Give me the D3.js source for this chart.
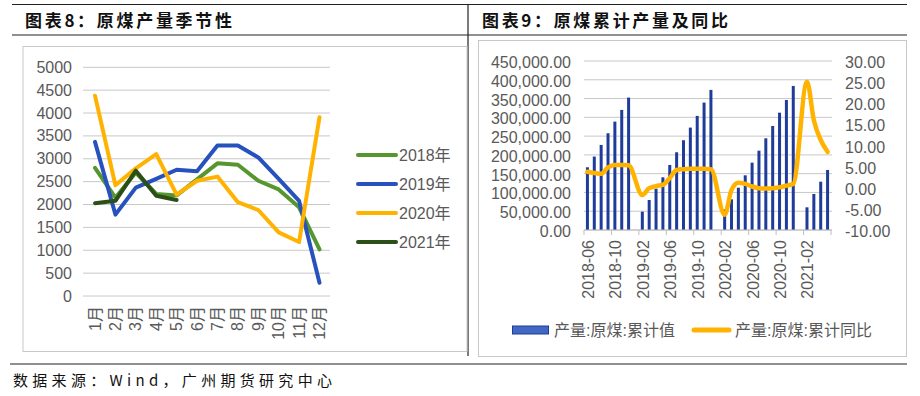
<!DOCTYPE html>
<html>
<head>
<meta charset="utf-8">
<script src="https://d3js.org/d3.v7.min.js"></script>
<style>
  body { margin: 0; background: #fff; }
  svg { display: block; }
  .ax { font-family: "Liberation Sans", Arial, "Noto Sans CJK SC", sans-serif; font-size: 16px; fill: #595959; }
</style>
</head>
<body>
<div id="chart"></div>
<script>
// ---- 图表8 data (monthly output, by year)
var months = ["1月","2月","3月","4月","5月","6月","7月","8月","9月","10月","11月","12月"];
var yTicksL = [0,500,1000,1500,2000,2500,3000,3500,4000,4500,5000];
var s2018 = [2800, 2150, 2700, 2230, 2200, 2550, 2900, 2870, 2520, 2330, 1940, 1020];
var s2019 = [3370, 1780, 2370, 2560, 2760, 2725, 3290, 3290, 3030, 2560, 2080, 290];
var s2020 = [4380, 2420, 2790, 3100, 2215, 2520, 2610, 2050, 1880, 1390, 1180, 3910];
var s2021 = [2030, 2080, 2740, 2190, 2100];
var seriesNames = ["2018年","2019年","2020年","2021年"];

// ---- 图表9 data (cumulative output and yoy)
var cumDates = ["2018-06","2018-07","2018-08","2018-09","2018-10","2018-11","2018-12",
  "2019-01","2019-02","2019-03","2019-04","2019-05","2019-06","2019-07","2019-08","2019-09","2019-10","2019-11","2019-12",
  "2020-01","2020-02","2020-03","2020-04","2020-05","2020-06","2020-07","2020-08","2020-09","2020-10","2020-11","2020-12",
  "2021-01","2021-02","2021-03","2021-04","2021-05"];
var cumValues = [167000,195500,226500,257600,288600,319700,352600,
  null,48800,79900,110100,140300,173200,207000,239000,272700,303800,339300,373000,
  null,54800,81700,112600,145600,179300,211200,244200,277000,312400,346200,383500,
  null,60400,95900,128600,159800];
var cumYoy = [3.8,3.5,3.3,4.8,5.4,5.4,5.3,
  null,-1.7,-0.1,0.4,0.7,2.3,4.2,4.4,4.5,4.5,4.5,4.4,
  null,-6.4,-0.5,1.2,0.9,0.3,-0.1,-0.2,-0.1,0.1,0.5,0.9,
  null,25.1,16.0,11.3,8.5];
var xTickLabels = ["2018-06","2018-10","2019-02","2019-06","2019-10","2020-02","2020-06","2020-10","2021-02"];
var legend9 = ["产量:原煤:累计值","产量:原煤:累计同比"];

var W = 920, H = 396;
var svg = d3.select("#chart").append("svg").attr("width", W).attr("height", H);

var fmt = d3.formatLocale({decimal: ".", thousands: ",", grouping: [3], currency: ["", ""], minus: "-"});
var fmtL = fmt.format(",.2f"), fmtR = fmt.format(".2f");

// page frame lines
function hline(x1, x2, y, c, w) {
  svg.append("line").attr("x1", x1).attr("x2", x2).attr("y1", y).attr("y2", y)
    .attr("stroke", c).attr("stroke-width", w);
}
hline(12, 907, 4.5, "#222", 1.2);
hline(12, 907, 35, "#222", 1.2);
hline(10, 907, 364, "#222", 1.2);
svg.append("line").attr("x1", 468).attr("x2", 468).attr("y1", 4).attr("y2", 356)
  .attr("stroke", "#222").attr("stroke-width", 1.2);

// chart boxes
svg.append("rect").attr("x", 23).attr("y", 46.5).attr("width", 444).attr("height", 305)
  .attr("fill", "none").attr("stroke", "#c8c8c8").attr("stroke-width", 1);
svg.append("rect").attr("x", 478.5).attr("y", 40.5).attr("width", 428).attr("height", 316)
  .attr("fill", "none").attr("stroke", "#c8c8c8").attr("stroke-width", 1);

// titles
var tfont = '"Noto Sans CJK SC", sans-serif';
svg.append("text").attr("x", 25).attr("y", 27).text("图表8：原煤产量季节性")
  .attr("font-family", tfont).attr("font-weight", 700).attr("font-size", 17).attr("fill", "#111")
  .attr("textLength", 207).attr("lengthAdjust", "spacing");
svg.append("text").attr("x", 482).attr("y", 27).text("图表9：原煤累计产量及同比")
  .attr("font-family", tfont).attr("font-weight", 700).attr("font-size", 17).attr("fill", "#111")
  .attr("textLength", 246).attr("lengthAdjust", "spacing");
svg.append("text").attr("x", 13).attr("y", 386).text("数据来源：Wind，广州期货研究中心")
  .attr("font-family", tfont).attr("font-size", 15).attr("fill", "#111")
  .attr("textLength", 319).attr("lengthAdjust", "spacing");

// ================= 图表8 =================
var x8 = d3.scalePoint().domain(months).range([95, 319.5]);
var y8 = d3.scaleLinear().domain([0, 5000]).range([296, 67.3]);
var g8 = svg.append("g");

g8.selectAll(".grid8").data(yTicksL).enter().append("line")
  .attr("x1", 83).attr("x2", 330)
  .attr("y1", function(d){ return y8(d); }).attr("y2", function(d){ return y8(d); })
  .attr("stroke", "#c8c8c8").attr("stroke-width", 1);
g8.selectAll(".yl8").data(yTicksL).enter().append("text").attr("class", "ax")
  .attr("x", 72).attr("y", function(d){ return y8(d); })
  .attr("text-anchor", "end").attr("dominant-baseline", "central")
  .text(function(d){ return d; });
g8.selectAll(".xl8").data(months).enter().append("text").attr("class", "ax")
  .attr("transform", function(d){ return "translate(" + x8(d) + ",306) rotate(-90)"; })
  .attr("text-anchor", "end").attr("dominant-baseline", "central")
  .text(function(d){ return d; });

var cols8 = ["#55962e", "#2751bd", "#ffb300", "#2c4f18"];
var all8 = [s2018, s2019, s2020, s2021];
var line8 = d3.line().x(function(d, i){ return x8(months[i]); }).y(function(d){ return y8(d); });
all8.forEach(function(s, k){
  g8.append("path").attr("d", line8(s)).attr("fill", "none")
    .attr("stroke", cols8[k]).attr("stroke-width", 4)
    .attr("stroke-linejoin", "round").attr("stroke-linecap", "round");
});

// legend
seriesNames.forEach(function(n, k){
  var ly = 155 + k * 29;
  g8.append("line").attr("x1", 358).attr("x2", 396).attr("y1", ly).attr("y2", ly)
    .attr("stroke", cols8[k]).attr("stroke-width", 4).attr("stroke-linecap", "round");
  g8.append("text").attr("class", "ax").attr("x", 399).attr("y", ly)
    .attr("dominant-baseline", "central").text(n);
});

// ================= 图表9 =================
var x9 = d3.scaleBand().domain(cumDates).range([584, 831]).padding(0);
var y9 = d3.scaleLinear().domain([0, 450000]).range([230, 61]);
var y9r = d3.scaleLinear().domain([-10, 30]).range([230, 61]);
var g9 = svg.append("g");

g9.selectAll(".grid9").data(y9.ticks(9)).enter().append("line")
  .attr("x1", 584).attr("x2", 832)
  .attr("y1", function(d){ return y9(d); }).attr("y2", function(d){ return y9(d); })
  .attr("stroke", "#c8c8c8").attr("stroke-width", 1);
g9.selectAll(".yl9").data(y9.ticks(9)).enter().append("text").attr("class", "ax")
  .attr("x", 571).attr("y", function(d){ return y9(d) + 1.5; })
  .attr("text-anchor", "end").attr("dominant-baseline", "central")
  .text(function(d){ return fmtL(d); });
g9.selectAll(".yr9").data(y9r.ticks(8)).enter().append("text").attr("class", "ax")
  .attr("x", 845).attr("y", function(d){ return y9r(d) + 1.5; })
  .attr("text-anchor", "start").attr("dominant-baseline", "central")
  .text(function(d){ return fmtR(d); });

// bars
var bw = 3;
g9.selectAll(".bar").data(cumValues.map(function(v, i){ return {d: cumDates[i], v: v}; })
    .filter(function(e){ return e.v != null; }))
  .enter().append("rect")
  .attr("x", function(e){ return x9(e.d) + x9.bandwidth() / 2 - bw / 2; })
  .attr("y", function(e){ return y9(e.v); })
  .attr("width", bw)
  .attr("height", function(e){ return y9(0) - y9(e.v); })
  .attr("fill", "#1f3c9a");

// axis
g9.append("line").attr("x1", 584).attr("x2", 832).attr("y1", 230).attr("y2", 230)
  .attr("stroke", "#bfbfbf").attr("stroke-width", 1);
var tickIdx = d3.range(0, cumDates.length + 1, 4);
g9.selectAll(".tk9").data(tickIdx).enter().append("line")
  .attr("x1", function(i){ return i < cumDates.length ? x9(cumDates[i]) : x9.range()[1]; })
  .attr("x2", function(i){ return i < cumDates.length ? x9(cumDates[i]) : x9.range()[1]; })
  .attr("y1", 230).attr("y2", 235).attr("stroke", "#bfbfbf").attr("stroke-width", 1);
g9.selectAll(".xl9").data(xTickLabels).enter().append("text").attr("class", "ax")
  .attr("transform", function(d){ return "translate(" + (x9(d) + x9.bandwidth() / 2 + 1) + ",240) rotate(-90)"; })
  .attr("text-anchor", "end").attr("dominant-baseline", "central")
  .text(function(d){ return d; });

// yoy line
var yoyPts = cumYoy.map(function(v, i){ return {d: cumDates[i], v: v}; })
  .filter(function(e){ return e.v != null; });
var line9 = d3.line().curve(d3.curveMonotoneX)
  .x(function(e){ return x9(e.d) + x9.bandwidth() / 2; })
  .y(function(e){ return y9r(e.v); });
g9.append("path").attr("d", line9(yoyPts)).attr("fill", "none")
  .attr("stroke", "#ffb300").attr("stroke-width", 4.5)
  .attr("stroke-linejoin", "round").attr("stroke-linecap", "round");

// legend
g9.append("rect").attr("x", 512.5).attr("y", 326).attr("width", 36).attr("height", 8)
  .attr("fill", "#4169c4").attr("stroke", "#1f3c9a").attr("stroke-width", 1);
g9.append("text").attr("class", "ax").attr("x", 554).attr("y", 330)
  .attr("dominant-baseline", "central").text(legend9[0]);
g9.append("line").attr("x1", 694).attr("x2", 729).attr("y1", 330).attr("y2", 330)
  .attr("stroke", "#ffb300").attr("stroke-width", 5).attr("stroke-linecap", "round");
g9.append("text").attr("class", "ax").attr("x", 735).attr("y", 330)
  .attr("dominant-baseline", "central").text(legend9[1]);
</script>
</body>
</html>
